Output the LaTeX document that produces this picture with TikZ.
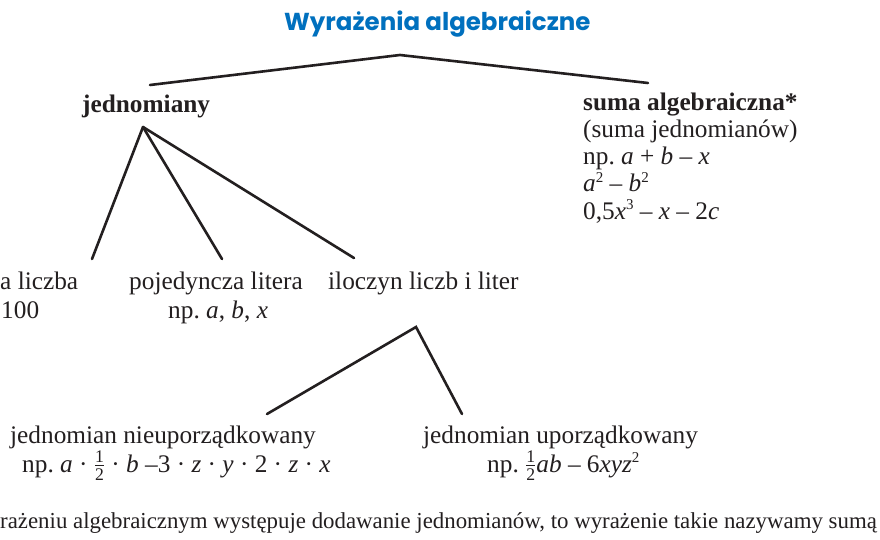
\documentclass[tikz,border=0pt]{standalone}
\usepackage{amsmath}
\usepackage{fontspec}
\setmainfont{Liberation Serif}
\newfontfamily\titlefont{Poppins}
\definecolor{ink}{RGB}{35,31,32}
\definecolor{titleblue}{RGB}{0,112,190}
\newcommand\halffrac{$\frac{\text{1}}{\text{2}}$}
\newcommand\sups[1]{\raisebox{0.36em}{\fontsize{15}{15}\selectfont #1}}
\frenchspacing
\begin{document}
\begin{tikzpicture}[x=1pt,y=-1pt,
  lbl/.style={inner sep=0pt, anchor=base west, text=ink, font=\fontsize{25.3}{27}\selectfont},
  conn/.style={line width=2.6pt, draw=ink, line cap=round, line join=miter}]
\useasboundingbox (0,0) rectangle (880,540);
\fill[white] (0,0) rectangle (880,540);
% title
\node[inner sep=0pt, anchor=base west, text=titleblue, font=\titlefont\bfseries\fontsize{24.5}{24}\selectfont] (title) at (284,31) {Wyrażenia algebraiczne};
% level 1
\node[lbl, font=\bfseries\fontsize{25.3}{27}\selectfont] (jed) at (82,113) {jednomiany};
\node[lbl, font=\bfseries\fontsize{25.3}{27}\selectfont] (suma1) at (583,111) {suma algebraiczna*};
\node[lbl] (suma2) at (583,138) {(suma jednomianów)};
\node[lbl] (suma3) at (583,165) {np. \textit{a} + \textit{b} – \textit{x}};
\node[lbl] (suma4) at (583,192) {\textit{a}\sups{2} – \textit{b}\sups{2}};
\node[lbl] (suma5) at (583,219) {0,5\textit{x}\sups{3} – \textit{x} – 2\textit{c}};
% level 2
\node[lbl] (liczba) at (0,289) {a liczba};
\node[lbl] (liczbaEx) at (1,318) {100};
\node[lbl] (litera) at (129,289) {pojedyncza litera};
\node[lbl] (literaEx) at (168,318) {np. \textit{a}, \textit{b}, \textit{x}};
\node[lbl] (iloczyn) at (328,289) {iloczyn liczb i liter};
% level 3
\node[lbl] (nieup) at (10,443) {jednomian nieuporządkowany};
\node[lbl] (nieupEx) at (22,472) {np. \textit{a} · \halffrac{} · \textit{b} –3 · \textit{z} · \textit{y} · 2 · \textit{z} · \textit{x}};
\node[lbl] (up) at (423,443) {jednomian uporządkowany};
\node[lbl] (upEx) at (487,472) {np. \halffrac\textit{ab} – 6\textit{xyz}\sups{2}};
% footnote
\node[lbl, font=\fontsize{22.85}{25}\selectfont] (foot) at (0,528) {rażeniu algebraicznym występuje dodawanie jednomianów, to wyrażenie takie nazywamy sumą};
% connector points
\coordinate (apex) at (400,55);
\coordinate (jedTop) at (150,85);
\coordinate (sumaTop) at (648,83);
\coordinate (jedRoot) at (143,127);
\coordinate (liczbaTop) at (92,259);
\coordinate (literaTop) at (222,259);
\coordinate (iloczynTop) at (354,258);
\coordinate (ilRoot) at (416,327);
\coordinate (nieupTop) at (267,414);
\coordinate (upTop) at (462,414);
\draw[conn] (jedTop) -- (apex) -- (sumaTop);
\draw[conn] (jedRoot) -- (liczbaTop);
\draw[conn] (jedRoot) -- (literaTop);
\draw[conn] (jedRoot) -- (iloczynTop);
\draw[conn] (nieupTop) -- (ilRoot) -- (upTop);
\end{tikzpicture}
\end{document}
